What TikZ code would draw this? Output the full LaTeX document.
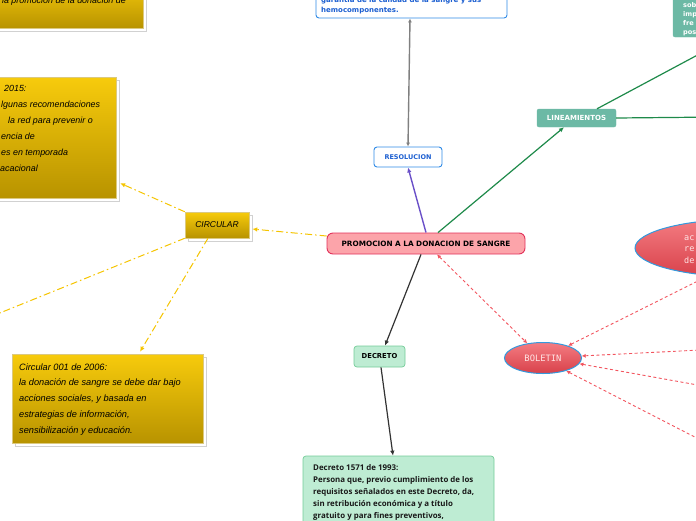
\documentclass[tikz,border=0pt]{standalone}
\usepackage{fontspec}
\setmainfont{Open Sans}
\newfontfamily\dvb{DejaVu Sans}
\newfontfamily\hand{Liberation Sans}
\newfontfamily\monof{DejaVu Sans Mono}
\usetikzlibrary{arrows.meta,shapes.geometric}
\definecolor{ytop}{HTML}{F7CB0C}
\definecolor{ybot}{HTML}{B89300}
\definecolor{yline}{HTML}{F5C400}
\definecolor{pinkf}{HTML}{FCA4AA}
\definecolor{crim}{HTML}{E2315A}
\definecolor{bluebd}{HTML}{2F8AE6}
\definecolor{bluetx}{HTML}{1C5FD1}
\definecolor{teal}{HTML}{6CB9A5}
\definecolor{gline}{HTML}{1E8A4A}
\definecolor{lgreen}{HTML}{BEECD3}
\definecolor{gbord}{HTML}{74CC98}
\definecolor{redtop}{HTML}{F47C82}
\definecolor{redbot}{HTML}{D8414A}
\definecolor{ellbd}{HTML}{3399DD}
\definecolor{rdash}{HTML}{F2555F}
\definecolor{purp}{HTML}{6A50C8}
\begin{document}
\begin{tikzpicture}[x=1pt,y=-1pt, >={Latex[length=5pt,width=4.5pt]},
  yshadow/.style={rectangle, fill=white, draw=black!18, line width=0.8pt, inner sep=0},
  ybox/.style={rectangle, top color=ytop, bottom color=ybot, draw=ybot!50!white, line width=0.5pt, inner sep=0},
  handtxt/.style={font=\hand\itshape\fontsize{9.2}{10}\selectfont, inner sep=0, text=black},
  handtxtb/.style={font=\hand\itshape\fontsize{8.9}{10}\selectfont, inner sep=0, text=black},
  bluebox/.style={rectangle, rounded corners=3pt, fill=white, draw=bluebd, line width=0.9pt, inner sep=0},
  bluetxt/.style={font=\dvb\bfseries\fontsize{7}{8}\selectfont, text=bluetx, inner sep=0},
  greenbox/.style={rectangle, rounded corners=3pt, fill=lgreen, draw=gbord, line width=0.7pt, inner sep=0},
  greentxt/.style={font=\bfseries\fontsize{7.9}{9}\selectfont, inner sep=0, text=black!90},
  tealbox/.style={rectangle, rounded corners=2pt, fill=teal, draw=teal, inner sep=0},
  tealtxt/.style={font=\dvb\bfseries\fontsize{6.6}{8}\selectfont, text=white, inner sep=0},
  redell/.style={ellipse, top color=redtop, bottom color=redbot, draw=ellbd, line width=1pt, inner sep=0},
  reltxt/.style={font=\monof\fontsize{8.5}{10}\selectfont, text=red!10!white, inner sep=0},
  yconn/.style={draw=yline, line width=1pt, dash pattern=on 7pt off 3pt on 1.5pt off 3pt},
  rconn/.style={draw=rdash, line width=0.9pt, dash pattern=on 3pt off 2.5pt}
]
\useasboundingbox (0,0) rectangle (696,520);
\clip (0,0) rectangle (696,520);

% ---- yellow boxes ----
\node[yshadow, minimum width=203pt, minimum height=48pt] (tlsh) at (44.5,7) {};
\node[ybox, minimum width=203pt, minimum height=48pt] (tlbox) at (41.5,4) {};
\node[handtxtb, anchor=base east] (tlt) at (126,3) {a la promoción de la donación de};

\node[yshadow, minimum width=216pt, minimum height=121pt] (lbsh) at (11,140.5) {};
\node[ybox, minimum width=216pt, minimum height=121pt] (leftbox) at (8,137.5) {};
\node[handtxtb, anchor=base west] (l1) at (4,91) {2015:};
\node[handtxtb, anchor=base west] (l2) at (1,107) {lgunas recomendaciones};
\node[handtxtb, anchor=base west] (l3) at (8,123) {la red para prevenir o};
\node[handtxtb, anchor=base west] (l4) at (1,139) {encia de};
\node[handtxtb, anchor=base west] (l5) at (1,155) {es en temporada};
\node[handtxtb, anchor=base west] (l6) at (0,171) {acacional};

\node[yshadow, minimum width=64pt, minimum height=26pt] (circsh) at (220,228) {};
\node[ybox, minimum width=64pt, minimum height=26pt, font=\hand\itshape\fontsize{8.5}{10}\selectfont] (circ) at (217,225) {CIRCULAR};

\node[yshadow, minimum width=191pt, minimum height=89pt] (blsh) at (110.5,401.5) {};
\node[ybox, minimum width=191pt, minimum height=89pt] (botleft) at (107.5,398.5) {};
\node[handtxt, anchor=base west] (b1) at (19,370) {Circular 001 de 2006:};
\node[handtxt, anchor=base west] (b2) at (19,385.5) {la donación de sangre se debe dar bajo};
\node[handtxt, anchor=base west] (b3) at (19,401.5) {acciones sociales, y basada en};
\node[handtxt, anchor=base west] (b4) at (19,417) {estrategias de información,};
\node[handtxt, anchor=base west] (b5) at (19,433) {sensibilización y educación.};

% ---- blue boxes ----
\node[bluebox, minimum width=191pt, minimum height=38pt] (topbox) at (411.5,-1) {};
\node[bluetxt, anchor=base west] (tb1) at (321,2.5) {garantía de la calidad de la sangre y sus};
\node[bluetxt, anchor=base west] (tb2) at (321,12) {hemocomponentes.};
\node[bluebox, minimum width=68pt, minimum height=20pt, font=\dvb\bfseries\fontsize{6.5}{8}\selectfont, text=bluetx] (resol) at (408,157) {RESOLUCION};

% ---- central ----
\node[rectangle, rounded corners=6pt, fill=pinkf, draw=crim, line width=0.9pt, minimum width=198pt, minimum height=21pt, inner sep=0, font=\dvb\bfseries\fontsize{7.3}{9}\selectfont] (central) at (426,243.5) {PROMOCION A LA DONACION DE SANGRE};

% ---- teal ----
\node[tealbox, minimum width=79pt, minimum height=18pt, font=\dvb\bfseries\fontsize{7}{8}\selectfont, text=white] (linea) at (576.5,118) {LINEAMIENTOS};
\node[tealbox, minimum width=87pt, minimum height=57pt] (trbox) at (716.5,8.5) {};
\node[tealtxt, anchor=base west] (tr1t) at (683,7) {sob};
\node[tealtxt, anchor=base west] (tr2t) at (683,16) {imp};
\node[tealtxt, anchor=base west] (tr3t) at (683,25) {fre};
\node[tealtxt, anchor=base west] (tr4t) at (683,34) {pos};

% ---- red ellipses ----
\node[redell, minimum width=220pt, minimum height=58pt] (rell) at (745,248) {};
\node[reltxt, anchor=base west] (re1) at (684,240) {ac};
\node[reltxt, anchor=base west] (re2) at (684,251.5) {re};
\node[reltxt, anchor=base west] (re3) at (684,263) {de};
\node[redell, minimum width=77pt, minimum height=31pt, font=\monof\fontsize{8.8}{10}\selectfont, text=red!10!white] (bol) at (543,358) {BOLETIN};

% ---- green ----
\node[greenbox, minimum width=51pt, minimum height=21pt, font=\dvb\bfseries\fontsize{6.8}{8}\selectfont] (decreto) at (379.5,356.5) {DECRETO};
\node[greenbox, minimum width=191pt, minimum height=104pt] (botbox) at (398.5,508) {};
\node[greentxt, anchor=base west] (g1) at (313,470) {Decreto 1571 de 1993:};
\node[greentxt, anchor=base west] (g2) at (313,482) {Persona que, previo cumplimiento de los};
\node[greentxt, anchor=base west] (g3) at (313,494) {requisitos señalados en este Decreto, da,};
\node[greentxt, anchor=base west] (g4) at (313,506) {sin retribución económica y a título};
\node[greentxt, anchor=base west] (g5) at (313,518) {gratuito y para fines preventivos,};

% ---- free ends ----
\coordinate (offL) at (-20,321);
\coordinate (trA) at (720,43);
\coordinate (trB) at (720,117);
\coordinate (r1) at (720,270);
\coordinate (r2) at (720,349);
\coordinate (r3) at (720,389);
\coordinate (r4) at (720,450);

% ---- connectors ----
\draw[yconn, ->] ([yshift=7.5pt]central.west) -- ([xshift=3pt,yshift=-4pt]circ.east);
\draw[yconn, ->] (circ.north west) -- ([xshift=4pt,yshift=15pt]leftbox.south east);
\draw[yconn] (circ.south west) -- (offL);
\draw[yconn, ->] ([xshift=-9pt]circ.south) -- ([xshift=32.5pt,yshift=2pt]botleft.north);

\draw[draw=black!50, line width=1.4pt, {Latex[length=4pt,width=4pt]}-{Latex[length=4pt,width=4pt]}] ([xshift=-1.5pt]topbox.south) -- (resol.north);
\draw[draw=purp, line width=1.4pt, ->] (central.north) -- (resol.south);
\draw[draw=gline, line width=1.2pt, ->] ([xshift=12pt]central.north) -- ([xshift=-12.5pt]linea.south);
\draw[draw=gline, line width=1.2pt] ([xshift=20.5pt]linea.north) -- (trA);
\draw[draw=gline, line width=1.2pt] (linea.east) -- (trB);

\draw[draw=black!80, line width=1.2pt, ->] ([xshift=-5pt]central.south) -- ([xshift=5.5pt]decreto.north);
\draw[draw=black!80, line width=1.2pt, ->] ([xshift=1.5pt]decreto.south) -- ([xshift=-5.5pt]botbox.north);

\draw[rconn, {Latex[length=4pt,width=4pt]}-{Latex[length=4pt,width=4pt]}] ([xshift=11pt]central.south) -- (bol.137);
\draw[rconn, {Latex[length=4pt,width=4pt]}-] (bol.26) -- (r1);
\draw[rconn, {Latex[length=4pt,width=4pt]}-] (bol.3) -- (r2);
\draw[rconn, {Latex[length=4pt,width=4pt]}-] (bol.-9) -- (r3);
\draw[rconn, {Latex[length=4pt,width=4pt]}-] (bol.-29) -- (r4);
\end{tikzpicture}
\end{document}
